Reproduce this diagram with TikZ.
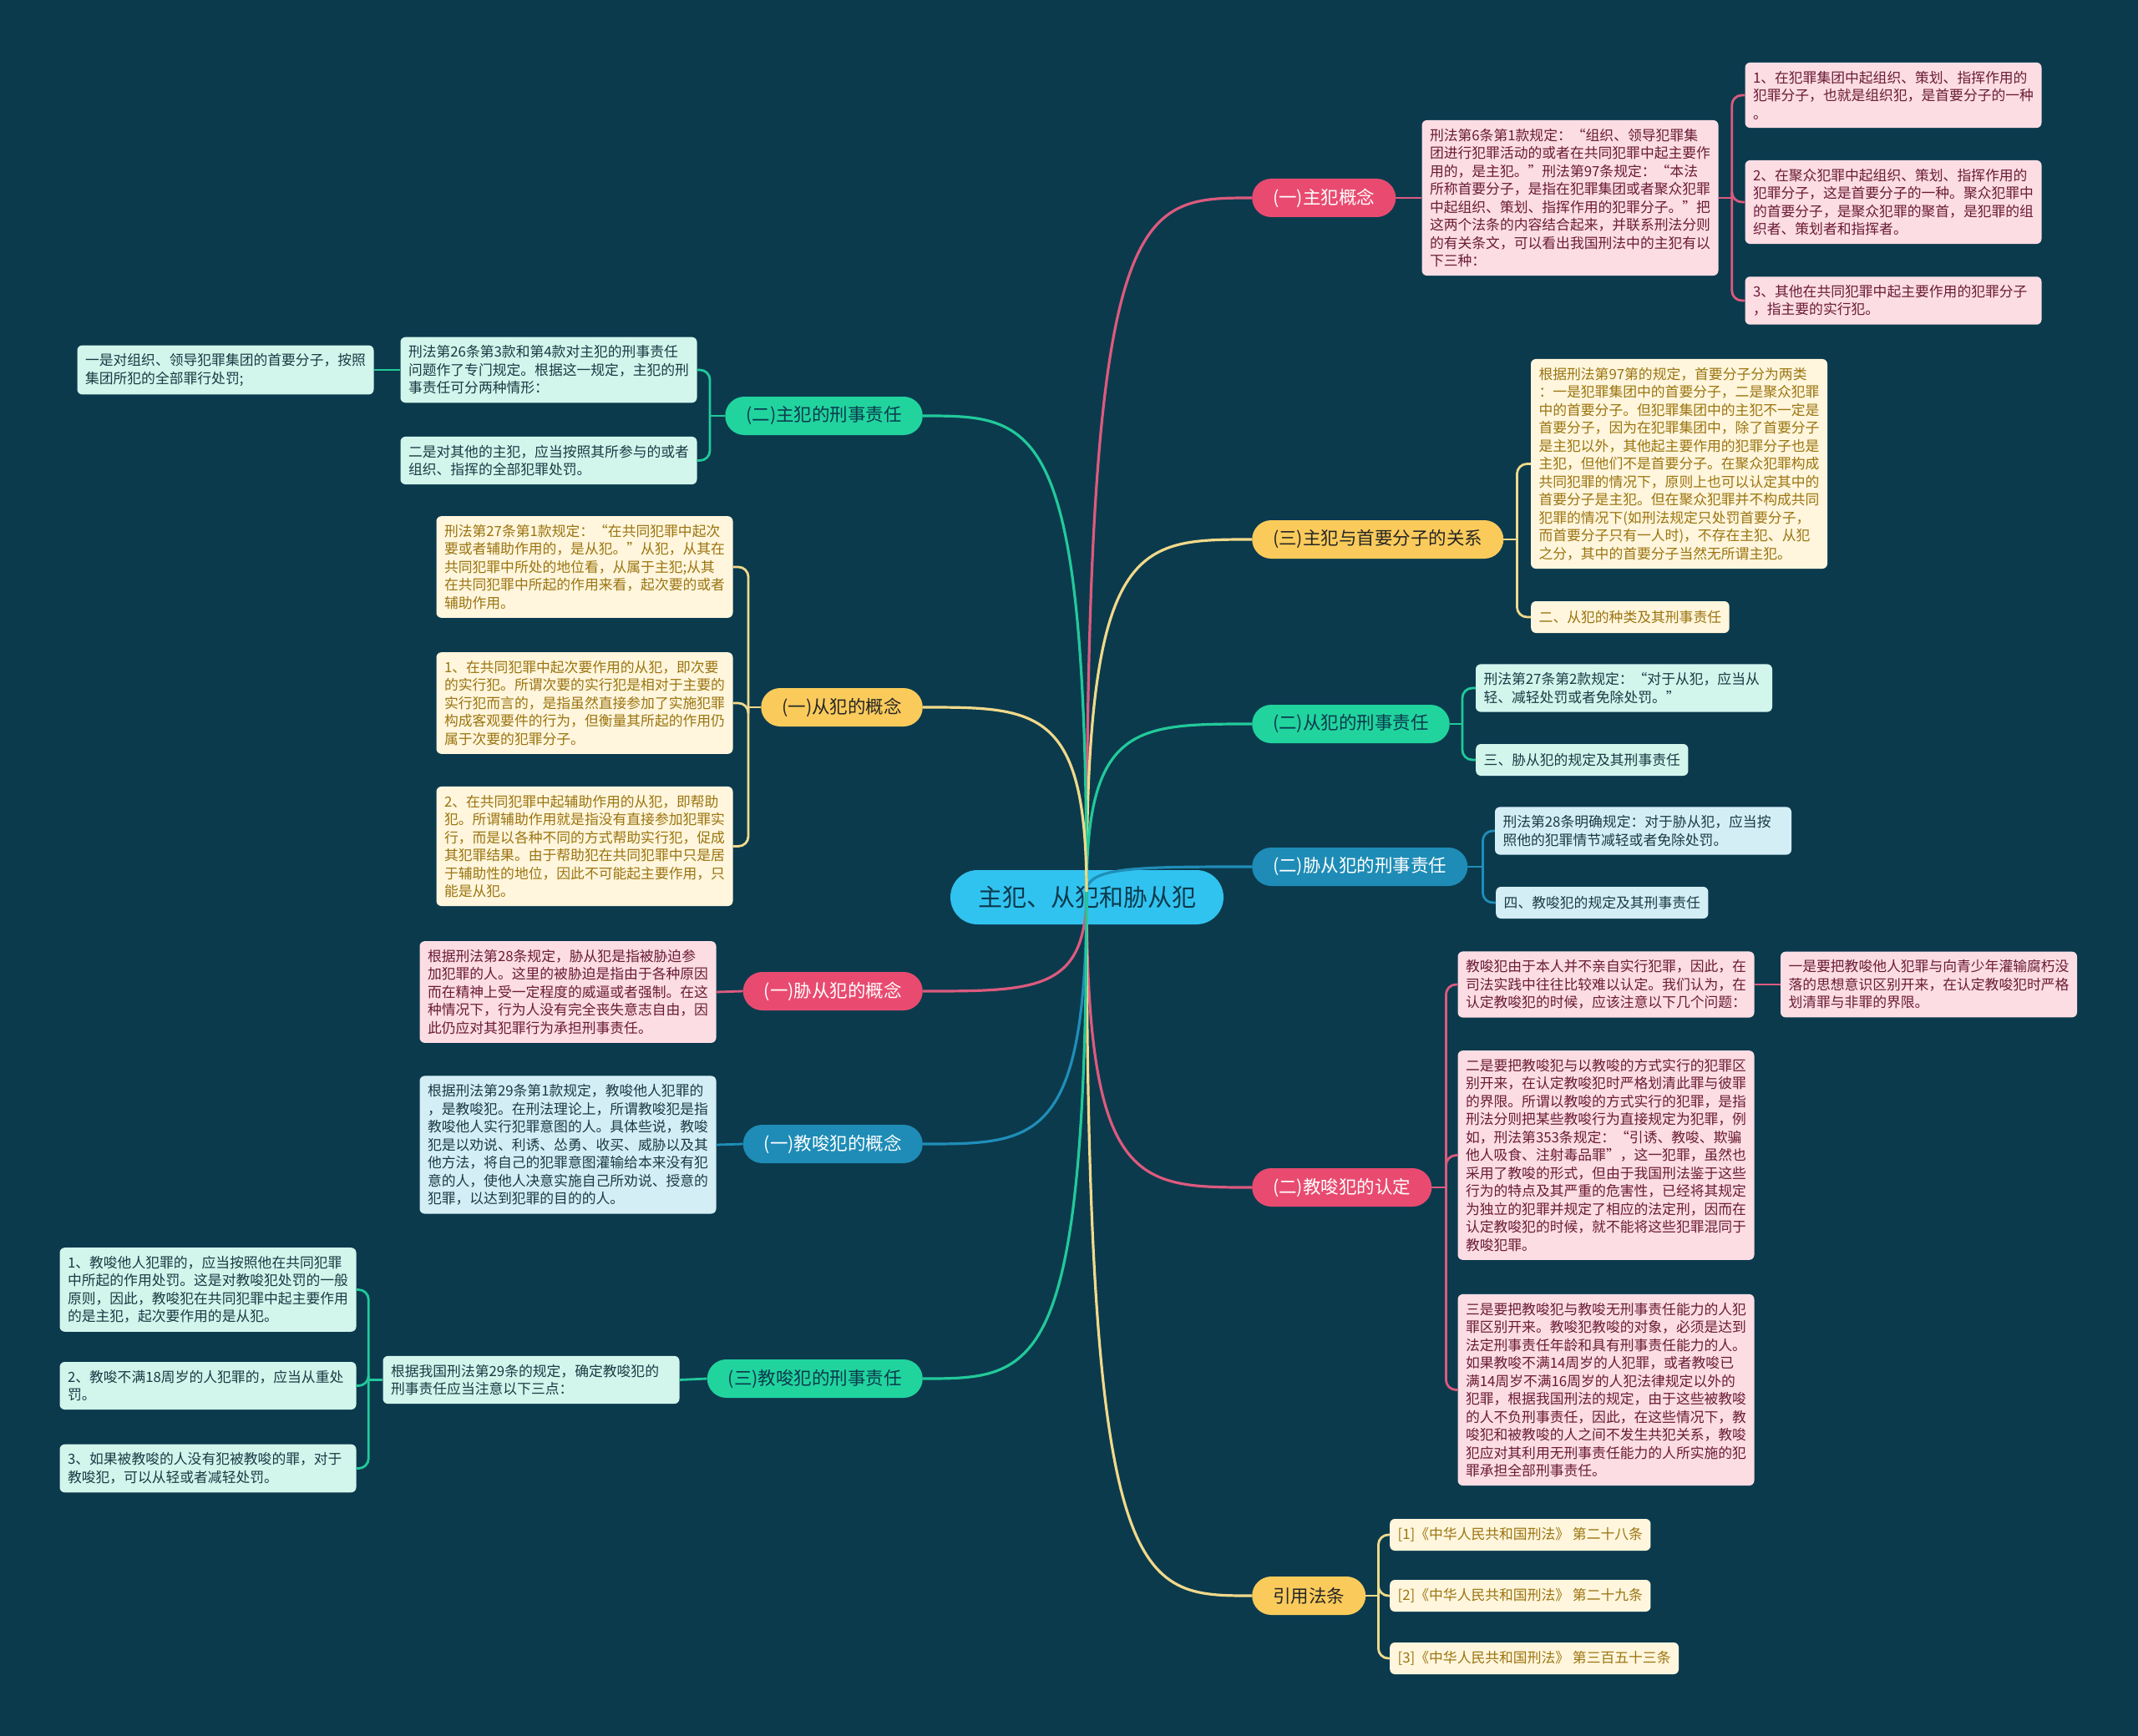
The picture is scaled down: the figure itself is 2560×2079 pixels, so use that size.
\documentclass[tikz,border=0pt]{standalone}
\usepackage{fontspec}
\setmainfont{Noto Sans CJK SC}
\usetikzlibrary{calc}
\definecolor{bgC}{HTML}{0B3A4D}
\definecolor{rootC}{HTML}{31C3F0}
\definecolor{pinkM}{HTML}{E94B70}
\definecolor{yellowM}{HTML}{FACB5B}
\definecolor{greenM}{HTML}{21D49E}
\definecolor{blueM}{HTML}{1E8CB6}
\definecolor{pinkL}{HTML}{FCDDE3}
\definecolor{yellowL}{HTML}{FFF6DD}
\definecolor{mintL}{HTML}{D2F6EC}
\definecolor{blueL}{HTML}{D4EEF6}
\definecolor{pinkT}{HTML}{6A1B36}
\definecolor{yellowT}{HTML}{9B7410}
\definecolor{darkT}{HTML}{1B3A44}
\definecolor{pinkLn}{HTML}{DD5A7E}
\definecolor{yellowLn}{HTML}{F1D98A}
\definecolor{greenLn}{HTML}{22C99A}
\definecolor{blueLn}{HTML}{1F8EB8}
\begin{document}
\begin{tikzpicture}[x=1pt,y=-1pt,
  box/.style={rounded corners=6pt, inner xsep=9.5pt, inner ysep=10pt, align=left,
    font=\fontsize{16.8}{21.5}\selectfont},
  wbox/.style={box, text width=336pt},
  sbox/.style={box, minimum height=38pt, anchor=west},
  pinkbox/.style={fill=pinkL, text=pinkT},
  yelbox/.style={fill=yellowL, text=yellowT},
  mintbox/.style={fill=mintL, text=darkT},
  bluebox/.style={fill=blueL, text=darkT},
  lone/.style={rounded corners=23pt, minimum height=46pt, inner xsep=25pt, inner ysep=0pt,
    font=\fontsize{21.5}{24}\selectfont},
  pinkone/.style={lone, fill=pinkM, text=white},
  yelone/.style={lone, fill=yellowM, text=black!85},
  greenone/.style={lone, fill=greenM, text=bgC},
  blueone/.style={lone, fill=blueM, text=white},
  conn/.style={line width=3.2pt},
  sub/.style={line width=2.8pt},
  br/.style={sub, rounded corners=12pt}
]
\fill[bgC] (0,0) rectangle (2560,2079);
\useasboundingbox (0,0) rectangle (2560,2079);

% root
\node[fill=rootC, text=bgC, rounded corners=32.5pt, minimum height=65pt, inner xsep=33pt, inner ysep=0pt,
  font=\fontsize{29}{32}\selectfont] (root) at (1301.5,1074.5) {主犯、从犯和胁从犯};
\coordinate (hub) at (1301,1068);

% level one, right
\node[pinkone, anchor=west] (n1) at (1499,237) {(一)主犯概念};
\node[yelone, anchor=west] (n2) at (1499,646) {(三)主犯与首要分子的关系};
\node[greenone, anchor=west] (n3) at (1499,867) {(二)从犯的刑事责任};
\node[blueone, anchor=west] (n4) at (1499,1038) {(二)胁从犯的刑事责任};
\node[pinkone, anchor=west] (n5) at (1499,1422) {(二)教唆犯的认定};
\node[yelone, anchor=west] (n6) at (1499,1911) {引用法条};
% level one, left
\node[greenone, anchor=east] (n7) at (1105,498) {(二)主犯的刑事责任};
\node[yelone, anchor=east] (n8) at (1105,847) {(一)从犯的概念};
\node[pinkone, anchor=east] (n9) at (1105,1187) {(一)胁从犯的概念};
\node[blueone, anchor=east] (n10) at (1105,1370) {(一)教唆犯的概念};
\node[greenone, anchor=east] (n11) at (1105,1651) {(三)教唆犯的刑事责任};

% right boxes
\node[wbox, pinkbox] (A) at (1880,237) {刑法第6条第1款规定：“组织、领导犯罪集\\团进行犯罪活动的或者在共同犯罪中起主要作\\用的，是主犯。”刑法第97条规定：“本法\\所称首要分子，是指在犯罪集团或者聚众犯罪\\中起组织、策划、指挥作用的犯罪分子。”把\\这两个法条的内容结合起来，并联系刑法分则\\的有关条文，可以看出我国刑法中的主犯有以\\下三种：};
\node[wbox, pinkbox] (A1) at (2267,114) {1、在犯罪集团中起组织、策划、指挥作用的\\犯罪分子，也就是组织犯，是首要分子的一种\\。};
\node[wbox, pinkbox] (A2) at (2267,242) {2、在聚众犯罪中起组织、策划、指挥作用的\\犯罪分子，这是首要分子的一种。聚众犯罪中\\的首要分子，是聚众犯罪的聚首，是犯罪的组\\织者、策划者和指挥者。};
\node[wbox, pinkbox] (A3) at (2267,360) {3、其他在共同犯罪中起主要作用的犯罪分子\\，指主要的实行犯。};

\node[wbox, yelbox] (B) at (2010.5,555.5) {根据刑法第97第的规定，首要分子分为两类\\：一是犯罪集团中的首要分子，二是聚众犯罪\\中的首要分子。但犯罪集团中的主犯不一定是\\首要分子，因为在犯罪集团中，除了首要分子\\是主犯以外，其他起主要作用的犯罪分子也是\\主犯，但他们不是首要分子。在聚众犯罪构成\\共同犯罪的情况下，原则上也可以认定其中的\\首要分子是主犯。但在聚众犯罪并不构成共同\\犯罪的情况下(如刑法规定只处罚首要分子，\\而首要分子只有一人时)，不存在主犯、从犯\\之分，其中的首要分子当然无所谓主犯。};
\node[sbox, yelbox] (B2) at (1833,739) {二、从犯的种类及其刑事责任};

\node[wbox, mintbox] (C1) at (1944.5,824) {刑法第27条第2款规定：“对于从犯，应当从\\轻、减轻处罚或者免除处罚。”};
\node[sbox, mintbox] (C2) at (1767,910) {三、胁从犯的规定及其刑事责任};

\node[wbox, bluebox] (D1) at (1967.5,995) {刑法第28条明确规定：对于胁从犯，应当按\\照他的犯罪情节减轻或者免除处罚。};
\node[sbox, bluebox] (D2) at (1791,1081) {四、教唆犯的规定及其刑事责任};

\node[wbox, pinkbox] (E1) at (1923,1179) {教唆犯由于本人并不亲自实行犯罪，因此，在\\司法实践中往往比较难以认定。我们认为，在\\认定教唆犯的时候，应该注意以下几个问题：};
\node[wbox, pinkbox] (E1a) at (2309.5,1179) {一是要把教唆他人犯罪与向青少年灌输腐朽没\\落的思想意识区别开来，在认定教唆犯时严格\\划清罪与非罪的界限。};
\node[wbox, pinkbox] (E2) at (1923,1383.5) {二是要把教唆犯与以教唆的方式实行的犯罪区\\别开来，在认定教唆犯时严格划清此罪与彼罪\\的界限。所谓以教唆的方式实行的犯罪，是指\\刑法分则把某些教唆行为直接规定为犯罪，例\\如，刑法第353条规定：“引诱、教唆、欺骗\\他人吸食、注射毒品罪”，这一犯罪，虽然也\\采用了教唆的形式，但由于我国刑法鉴于这些\\行为的特点及其严重的危害性，已经将其规定\\为独立的犯罪并规定了相应的法定刑，因而在\\认定教唆犯的时候，就不能将这些犯罪混同于\\教唆犯罪。};
\node[wbox, pinkbox] (E3) at (1923,1664.5) {三是要把教唆犯与教唆无刑事责任能力的人犯\\罪区别开来。教唆犯教唆的对象，必须是达到\\法定刑事责任年龄和具有刑事责任能力的人。\\如果教唆不满14周岁的人犯罪，或者教唆已\\满14周岁不满16周岁的人犯法律规定以外的\\犯罪，根据我国刑法的规定，由于这些被教唆\\的人不负刑事责任，因此，在这些情况下，教\\唆犯和被教唆的人之间不发生共犯关系，教唆\\犯应对其利用无刑事责任能力的人所实施的犯\\罪承担全部刑事责任。};

\node[sbox, yelbox] (F1) at (1664,1838) {[1]《中华人民共和国刑法》 第二十八条};
\node[sbox, yelbox] (F2) at (1664,1911) {[2]《中华人民共和国刑法》 第二十九条};
\node[sbox, yelbox] (F3) at (1664,1986) {[3]《中华人民共和国刑法》 第三百五十三条};

% left boxes
\node[wbox, mintbox] (G1) at (657,443) {刑法第26条第3款和第4款对主犯的刑事责任\\问题作了专门规定。根据这一规定，主犯的刑\\事责任可分两种情形：};
\node[wbox, mintbox] (G1a) at (270,443) {一是对组织、领导犯罪集团的首要分子，按照\\集团所犯的全部罪行处罚;};
\node[wbox, mintbox] (G2) at (657,551.5) {二是对其他的主犯，应当按照其所参与的或者\\组织、指挥的全部犯罪处罚。};

\node[wbox, yelbox] (H1) at (700,679) {刑法第27条第1款规定：“在共同犯罪中起次\\要或者辅助作用的，是从犯。”从犯，从其在\\共同犯罪中所处的地位看，从属于主犯;从其\\在共同犯罪中所起的作用来看，起次要的或者\\辅助作用。};
\node[wbox, yelbox] (H2) at (700,842) {1、在共同犯罪中起次要作用的从犯，即次要\\的实行犯。所谓次要的实行犯是相对于主要的\\实行犯而言的，是指虽然直接参加了实施犯罪\\构成客观要件的行为，但衡量其所起的作用仍\\属于次要的犯罪分子。};
\node[wbox, yelbox] (H3) at (700,1013.5) {2、在共同犯罪中起辅助作用的从犯，即帮助\\犯。所谓辅助作用就是指没有直接参加犯罪实\\行，而是以各种不同的方式帮助实行犯，促成\\其犯罪结果。由于帮助犯在共同犯罪中只是居\\于辅助性的地位，因此不可能起主要作用，只\\能是从犯。};

\node[wbox, pinkbox] (I) at (680,1188) {根据刑法第28条规定，胁从犯是指被胁迫参\\加犯罪的人。这里的被胁迫是指由于各种原因\\而在精神上受一定程度的威逼或者强制。在这\\种情况下，行为人没有完全丧失意志自由，因\\此仍应对其犯罪行为承担刑事责任。};
\node[wbox, bluebox] (J) at (680,1371) {根据刑法第29条第1款规定，教唆他人犯罪的\\，是教唆犯。在刑法理论上，所谓教唆犯是指\\教唆他人实行犯罪意图的人。具体些说，教唆\\犯是以劝说、利诱、怂勇、收买、威胁以及其\\他方法，将自己的犯罪意图灌输给本来没有犯\\意的人，使他人决意实施自己所劝说、授意的\\犯罪，以达到犯罪的目的的人。};

\node[wbox, mintbox] (K) at (636,1652.5) {根据我国刑法第29条的规定，确定教唆犯的\\刑事责任应当注意以下三点：};
\node[wbox, mintbox] (K1) at (249,1544.5) {1、教唆他人犯罪的，应当按照他在共同犯罪\\中所起的作用处罚。这是对教唆犯处罚的一般\\原则，因此，教唆犯在共同犯罪中起主要作用\\的是主犯，起次要作用的是从犯。};
\node[wbox, mintbox] (K2) at (249,1659.5) {2、教唆不满18周岁的人犯罪的，应当从重处\\罚。};
\node[wbox, mintbox] (K3) at (249,1758.5) {3、如果被教唆的人没有犯被教唆的罪，对于\\教唆犯，可以从轻或者减轻处罚。};

% root connectors
\foreach \n/\c in {n1/pinkLn, n2/yellowLn, n3/greenLn, n4/blueLn, n5/pinkLn, n6/yellowLn}
  \draw[conn, \c] (hub) .. controls (hub |- \n.west) and ($(hub |- \n.west)+(60,0)$) .. (\n.west);
\foreach \n/\c in {n7/greenLn, n8/yellowLn, n9/pinkLn, n10/blueLn, n11/greenLn}
  \draw[conn, \c] (hub) .. controls (hub |- \n.east) and ($(hub |- \n.east)+(-60,0)$) .. (\n.east);

% right sub connectors
\draw[sub, pinkLn] (n1.east) -- (A.west);
\draw[sub, pinkLn] (A.east) -- ++(16,0) coordinate (sa);
\foreach \t in {A1,A2,A3} \draw[br, pinkLn] (sa) |- (\t.west);

\draw[sub, yellowLn] (n2.east) -- ++(16,0) coordinate (sb);
\foreach \t in {B,B2} \draw[br, yellowLn] (sb) |- (\t.west);

\draw[sub, greenLn] (n3.east) -- ++(15,0) coordinate (sc);
\foreach \t in {C1,C2} \draw[br, greenLn] (sc) |- (\t.west);

\draw[sub, blueLn] (n4.east) -- ++(18,0) coordinate (sd);
\foreach \t in {D1,D2} \draw[br, blueLn] (sd) |- (\t.west);

\draw[sub, pinkLn] (n5.east) -- ++(17,0) coordinate (se);
\foreach \t in {E1,E2,E3} \draw[br, pinkLn] (se) |- (\t.west);
\draw[sub, pinkLn] (E1.east) -- (E1a.west);

\draw[sub, yellowLn] (n6.east) -- ++(15,0) coordinate (sf);
\foreach \t in {F1,F2,F3} \draw[br, yellowLn] (sf) |- (\t.west);

% left sub connectors
\draw[sub, greenLn] (n7.west) -- ++(-18,0) coordinate (sg);
\foreach \t in {G1,G2} \draw[br, greenLn] (sg) |- (\t.east);
\draw[sub, greenLn] (G1.west) -- (G1a.east);

\draw[sub, yellowLn] (n8.west) -- ++(-15,0) coordinate (sh);
\foreach \t in {H1,H2,H3} \draw[br, yellowLn] (sh) |- (\t.east);

\draw[sub, pinkLn] (n9.west) -- (I.east);
\draw[sub, blueLn] (n10.west) -- (J.east);
\draw[sub, greenLn] (n11.west) -- (K.east);
\draw[sub, greenLn] (K.west) -- ++(-17,0) coordinate (sk);
\foreach \t in {K1,K2,K3} \draw[br, greenLn] (sk) |- (\t.east);
\end{tikzpicture}
\end{document}
